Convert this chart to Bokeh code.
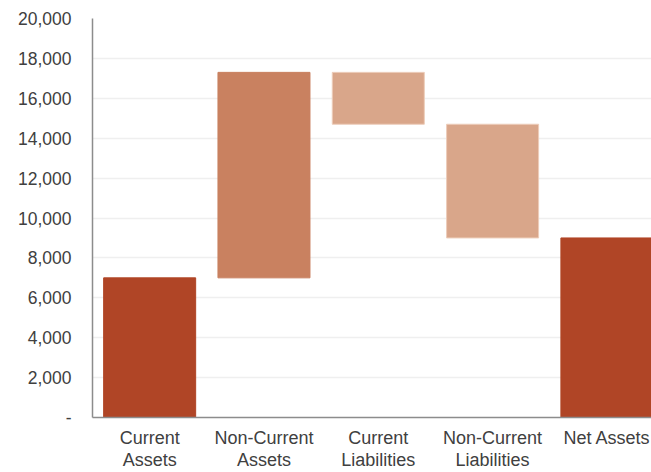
from bokeh.plotting import figure
from bokeh.models import Range1d, FixedTicker, NumeralTickFormatter
from bokeh.embed import file_html
from bokeh.resources import INLINE

# Balance-sheet waterfall (values in thousands)
categories = ["Current\nAssets", "Non-Current\nAssets", "Current\nLiabilities",
              "Non-Current\nLiabilities", "Net Assets"]
changes = [7000, 10300, -2600, -5700]
net_assets = 9000
bar_colors = ["#B04526", "#C98160", "#D9A68A", "#D9A68A", "#B04526"]
edge_colors = ["#B04526", "#C98160", "#EDCDBA", "#EDCDBA", "#B04526"]
y_ticks = [0, 2000, 4000, 6000, 8000, 10000, 12000, 14000, 16000, 18000, 20000]

# running totals for the floating bars
bottoms, tops = [], []
level = 0
for c in changes:
    start = level
    level += c
    bottoms.append(min(start, level))
    tops.append(max(start, level))
bottoms.append(0)
tops.append(net_assets)
xs = list(range(len(categories)))

FONT = "Liberation Sans"
TEXT = "#404040"

p = figure(width=651, height=472, output_backend="svg", toolbar_location=None,
           x_range=Range1d(-0.5, 4.39), y_range=Range1d(0, 20000),
           min_border_left=92, min_border_right=0, min_border_top=18,
           min_border_bottom=54)
p.outline_line_color = None
p.background_fill_color = "white"

p.vbar(x=xs, bottom=bottoms, top=tops, width=0.805,
       fill_color=bar_colors, line_color=edge_colors, line_width=1)

# y axis
p.yaxis.ticker = FixedTicker(ticks=y_ticks)
p.yaxis.formatter = NumeralTickFormatter(format="0,0")
p.yaxis.major_label_overrides = {0: "-"}
p.yaxis.major_tick_in = 0
p.yaxis.major_tick_out = 0
p.yaxis.minor_tick_in = 0
p.yaxis.minor_tick_out = 0
p.yaxis.major_label_standoff = 21
p.yaxis.axis_line_color = "#8C8C8C"
p.yaxis.axis_line_width = 1.5
p.yaxis.major_label_text_font = FONT
p.yaxis.major_label_text_font_size = "17.5px"
p.yaxis.major_label_text_color = TEXT

# x axis
p.xaxis.ticker = FixedTicker(ticks=xs)
p.xaxis.major_label_overrides = {i: c for i, c in enumerate(categories)}
p.xaxis.major_tick_in = 0
p.xaxis.major_tick_out = 0
p.xaxis.minor_tick_in = 0
p.xaxis.minor_tick_out = 0
p.xaxis.major_label_standoff = 10
p.xaxis.axis_line_color = "#8C8C8C"
p.xaxis.axis_line_width = 1.5
p.xaxis.major_label_text_font = FONT
p.xaxis.major_label_text_font_size = "18px"
p.xaxis.major_label_text_color = TEXT
p.xaxis.major_label_text_line_height = 1.1

p.xgrid.grid_line_color = None
p.ygrid.ticker = FixedTicker(ticks=y_ticks)
p.ygrid.grid_line_color = "#EFEFEF"
p.ygrid.grid_line_width = 1.5

open("out.html", "w").write(file_html(p, INLINE))
